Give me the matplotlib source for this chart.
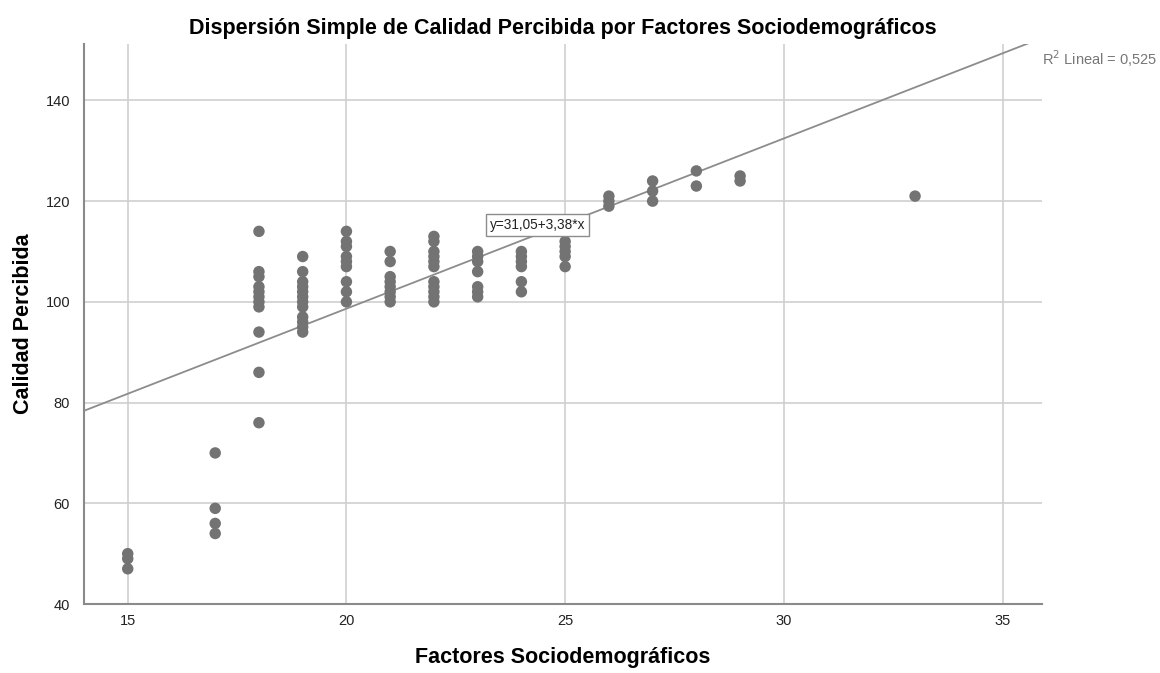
import matplotlib
matplotlib.use("Agg")
import matplotlib.pyplot as plt
import numpy as np

plt.rcParams['font.family'] = ['Liberation Sans', 'DejaVu Sans']

x_vals = [15, 15, 15,
          17, 17, 17, 17,
          18, 18, 18, 18, 18, 18, 18, 18, 18, 18, 18,
          19, 19, 19, 19, 19, 19, 19, 19, 19, 19, 19, 19,
          20, 20, 20, 20, 20, 20, 20, 20, 20,
          21, 21, 21, 21, 21, 21, 21, 21,
          22, 22, 22, 22, 22, 22, 22, 22, 22, 22, 22,
          23, 23, 23, 23, 23, 23, 23,
          24, 24, 24, 24, 24, 24,
          25, 25, 25, 25, 25,
          26, 26, 26,
          27, 27, 27,
          28, 28,
          29, 29,
          33]
y_vals = [50, 49, 47,
          70, 59, 56, 54,
          114, 106, 105, 103, 102, 101, 100, 99, 94, 86, 76,
          109, 106, 104, 103, 102, 101, 100, 99, 97, 96, 95, 94,
          114, 112, 111, 109, 108, 107, 104, 102, 100,
          110, 108, 105, 104, 103, 102, 101, 100,
          113, 112, 110, 109, 108, 107, 104, 103, 102, 101, 100,
          110, 109, 108, 106, 103, 102, 101,
          110, 109, 108, 107, 104, 102,
          112, 111, 110, 109, 107,
          121, 120, 119,
          124, 122, 120,
          126, 123,
          125, 124,
          121]
intercept = 31.05
slope = 3.38
r2_text = "R$^2$ Lineal = 0,525"
eq_text = "y=31,05+3,38*x"
x_ticks = [15, 20, 25, 30, 35]
y_ticks = [40, 60, 80, 100, 120, 140]

fig = plt.figure(figsize=(11.6, 6.73), dpi=100)
ax = fig.add_axes([0.0724, 0.1025, 0.8258, 0.8321])
ax.set_xlim(14, 35.9)
ax.set_ylim(40, 151.2)
ax.set_xticks(x_ticks)
ax.set_yticks(y_ticks)
ax.grid(True, color='#cfcfcf', linewidth=1.2)
ax.set_axisbelow(True)

for s in ['top', 'right']:
    ax.spines[s].set_visible(False)
for s in ['left', 'bottom']:
    ax.spines[s].set_color('#8a8a8a')
    ax.spines[s].set_linewidth(1.5)
ax.tick_params(axis='x', length=0, labelsize=10.5, pad=7, colors='#222222')
ax.tick_params(axis='y', length=0, labelsize=10.5, pad=10, colors='#222222')

xl = np.array([14, 36])
ax.plot(xl, intercept + slope * xl, color='#8c8c8c', linewidth=1.3, zorder=2)
ax.scatter(x_vals, y_vals, s=68, color='#737373', edgecolors='none', zorder=3)

ax.text(24.37, 115.3, eq_text, ha='center', va='center', fontsize=9.8,
        color='#222222', zorder=4,
        bbox=dict(boxstyle='square,pad=0.3', facecolor='white', edgecolor='#8c8c8c', linewidth=1))

fig.text(0.898, 0.913, r2_text, fontsize=10.5, color='#777777', ha='left', va='center')

ax.set_title("Dispersión Simple de Calidad Percibida por Factores Sociodemográficos",
             fontsize=15.5, fontweight='bold', pad=7)
ax.set_xlabel("Factores Sociodemográficos", fontsize=15.5, fontweight='bold', labelpad=14)
ax.set_ylabel("Calidad Percibida", fontsize=15.5, fontweight='bold', labelpad=8)

fig.savefig("out.png", dpi=100)
